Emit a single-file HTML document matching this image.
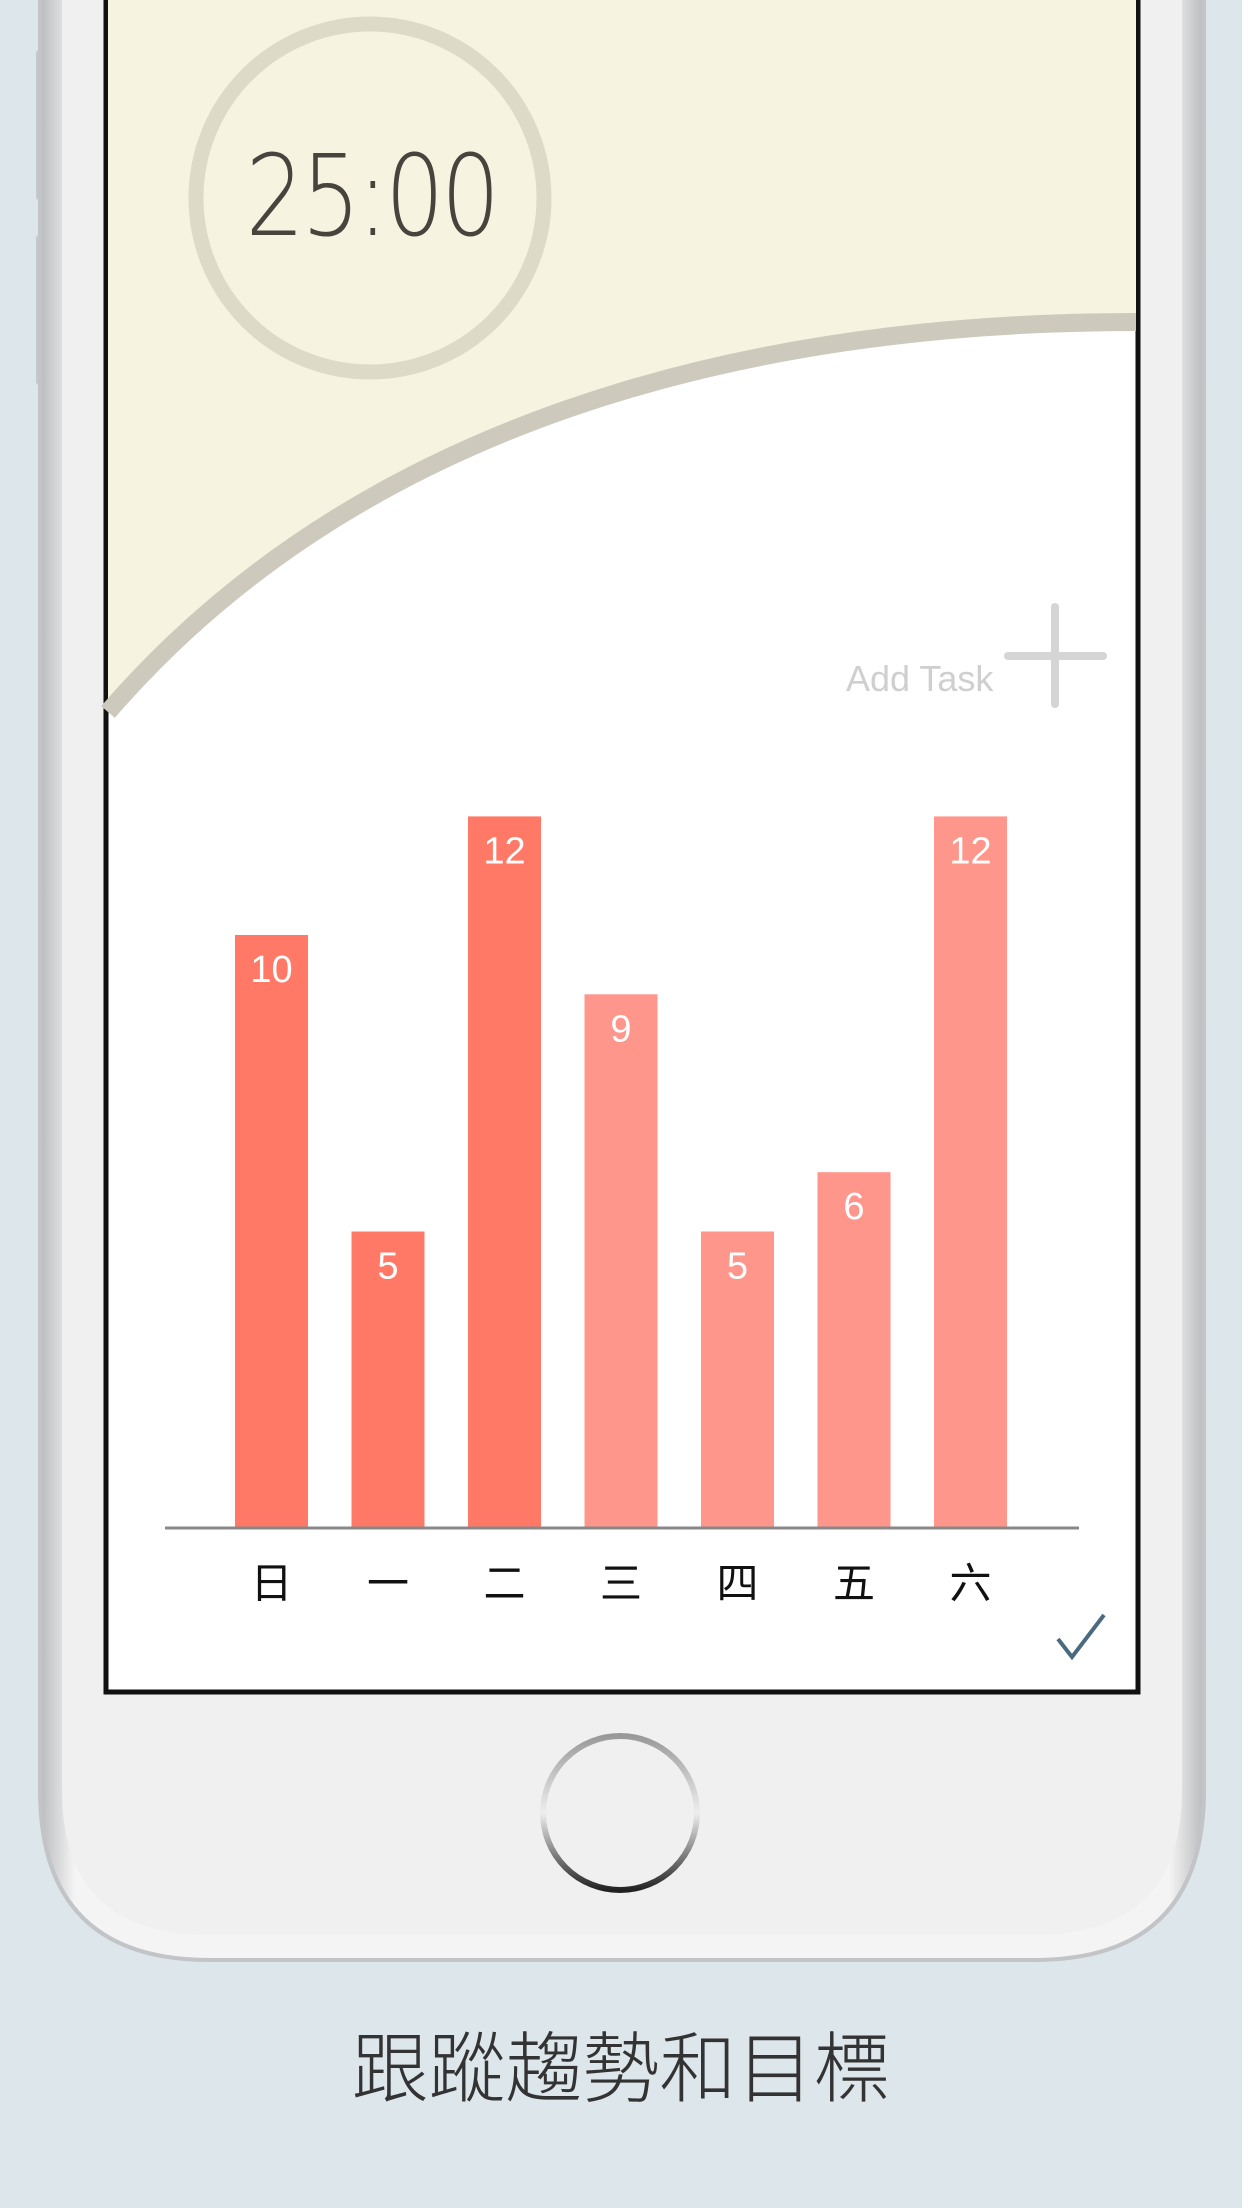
<!DOCTYPE html>
<html><head><meta charset="utf-8"><style>
html,body{margin:0;padding:0}
body{width:1242px;height:2208px;background:#dde6eb;position:relative;overflow:hidden;font-family:"Liberation Sans","Noto Sans CJK TC",sans-serif}
</style></head><body>
<svg width="1242" height="2208" style="position:absolute;left:0;top:0">
<defs>
<linearGradient id="bezel" x1="0" x2="1"><stop offset="0" stop-color="#b9bbbe"/><stop offset="0.03" stop-color="#f4f4f4"/><stop offset="0.97" stop-color="#f4f4f4"/><stop offset="1" stop-color="#b9bbbe"/></linearGradient>
<linearGradient id="btn" x1="0" y1="0" x2="0" y2="1"><stop offset="0" stop-color="#999"/><stop offset="0.5" stop-color="#eee"/><stop offset="1" stop-color="#222"/></linearGradient>
</defs>
<rect x="36" y="50" width="6" height="150" rx="3" fill="#c6c9cc"/>
<rect x="36" y="235" width="6" height="150" rx="3" fill="#c6c9cc"/>
<rect x="1200" y="50" width="6" height="150" rx="3" fill="#c6c9cc"/>
<path d="M40 -20 H1204 V1790 Q1204 1960 1034 1960 H210 Q40 1960 40 1790 Z" fill="url(#bezel)" stroke="#c2c4c7" stroke-width="4"/>
<path d="M62 -20 H1182 V1790 Q1182 1935 1034 1935 H210 Q62 1935 62 1790 Z" fill="#f0f0f0"/>
<rect x="106" y="-10" width="1032" height="1702" fill="#fff" stroke="#111" stroke-width="5"/>
<path d="M108 -10 H1136 V322 C750 322 360 420 108 712 Z" fill="#f6f3e1"/>
<path d="M108 712 C360 420 750 322 1136 322" fill="none" stroke="#cdc9bc" stroke-width="18"/>
<circle cx="370" cy="198" r="174" fill="none" stroke="#dddac8" stroke-width="15"/>
<circle cx="620" cy="1813" r="77" fill="none" stroke="url(#btn)" stroke-width="6"/>
</svg>
<div style="position:absolute;left:220px;top:132px;width:300px;text-align:center;font-size:112px;color:#46443c;line-height:130px;font-family:'DejaVu Sans','Liberation Sans',sans-serif;font-weight:200;letter-spacing:-4px;transform:scaleX(0.83)">25:00</div>
<div style="position:absolute;left:846px;top:658px;font-size:36px;color:#cfcfcf">Add Task</div>
<svg width="110" height="110" style="position:absolute;left:1000px;top:602px"><line x1="55" y1="5" x2="55" y2="102" stroke="#d5d5d5" stroke-width="8" stroke-linecap="round"/><line x1="8" y1="54" x2="103" y2="54" stroke="#d5d5d5" stroke-width="8" stroke-linecap="round"/></svg>
<svg id="chart" width="1242" height="1700" style="position:absolute;left:0;top:0"></svg>
<svg width="60" height="60" style="position:absolute;left:1052px;top:1605px"><path d="M6 34 L20 52 L52 10" fill="none" stroke="#4a6a80" stroke-width="4"/></svg>
<div style="position:absolute;left:0;top:2020px;width:1242px;text-align:center;font-size:77px;color:#333;line-height:100px;font-family:'Liberation Sans','Noto Sans CJK TC',sans-serif;font-weight:300">跟蹤趨勢和目標</div>
<script>
const days=['日','一','二','三','四','五','六'];
const values=[10,5,12,9,5,6,12];
const highlighted=[true,true,true,false,false,false,false];
const ns='http://www.w3.org/2000/svg';
const svg=document.getElementById('chart');
const base=1528,unit=59.3,x0=235,step=116.5,bw=73;
function y(v){return base-v*unit;}
function x(i){return x0+i*step;}
const ax=document.createElementNS(ns,'line');


ax.setAttribute('x1',165);ax.setAttribute('x2',1079);ax.setAttribute('y1',base);ax.setAttribute('y2',base);
ax.setAttribute('stroke','#888');ax.setAttribute('stroke-width',3);
values.forEach((v,i)=>{
 const r=document.createElementNS(ns,'rect');
 
 
 r.setAttribute('x',x(i));r.setAttribute('y',y(v));r.setAttribute('width',bw);r.setAttribute('height',base-y(v));
 r.setAttribute('fill',highlighted[i]?'#ff7966':'#ff968b');
 svg.appendChild(r);
 const t=document.createElementNS(ns,'text');
 
 
 t.setAttribute('x',x(i)+bw/2);t.setAttribute('y',y(v)+47);
 t.setAttribute('text-anchor','middle');t.setAttribute('fill','#fff');t.setAttribute('font-size','38');
 t.setAttribute('font-family','Liberation Sans, sans-serif');
 t.textContent=v;svg.appendChild(t);
 const d=document.createElementNS(ns,'text');
 
 
 d.setAttribute('x',x(i)+bw/2);d.setAttribute('y',1598);
 d.setAttribute('text-anchor','middle');d.setAttribute('fill','#111');d.setAttribute('font-size','42');
 d.setAttribute('font-family','Liberation Sans, Noto Sans CJK TC, sans-serif');
 d.textContent=days[i];svg.appendChild(d);
});
svg.appendChild(ax);
</script>
</body></html>
